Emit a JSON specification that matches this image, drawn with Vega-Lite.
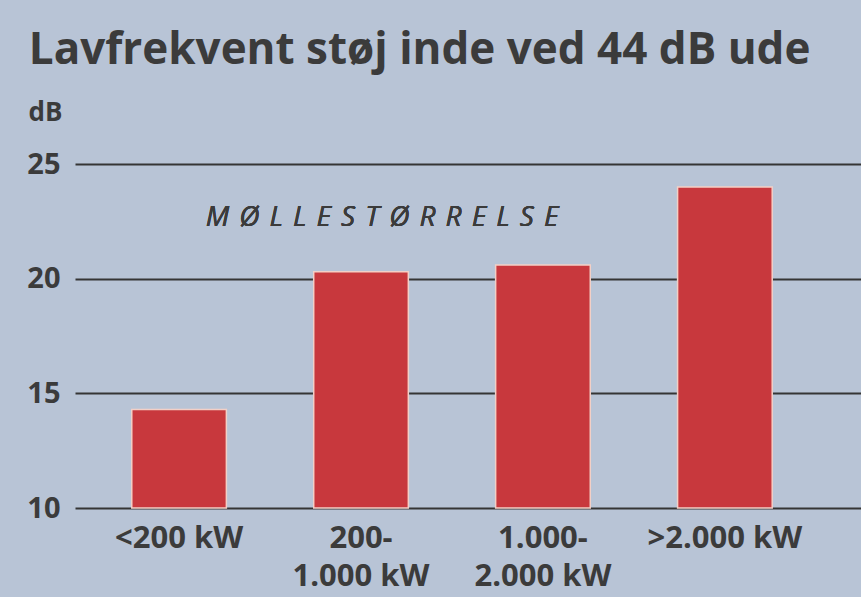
{
  "$schema": "https://vega.github.io/schema/vega-lite/v6.json",
  "autosize": {"type": "none"},
  "padding": {"left": 75, "top": 164, "right": 0, "bottom": 89},
  "width": 786,
  "height": 344,
  "background": "#b8c4d6",
  "title": {
    "text": "Lavfrekvent støj inde ved 44 dB ude",
    "anchor": "start",
    "frame": "bounds",
    "font": "Open Sans",
    "fontSize": 44,
    "fontWeight": "bold",
    "color": "#3b3b3b",
    "offset": 26,
    "dx": 2
  },
  "config": {
    "view": {"stroke": null},
    "font": "Open Sans"
  },
  "data": {
    "values": [
      {"kategori": "<200 kW", "dB": 14.3},
      {"kategori": "200-|1.000 kW", "dB": 20.3},
      {"kategori": "1.000-|2.000 kW", "dB": 20.6},
      {"kategori": ">2.000 kW", "dB": 24.0}
    ]
  },
  "layer": [
    {
      "mark": {"type": "bar", "color": "#c8383d", "stroke": "#f3cfc6", "strokeWidth": 1.5},
      "encoding": {
        "x": {
          "field": "kategori",
          "type": "nominal",
          "sort": null,
          "scale": {"paddingInner": 0.48, "paddingOuter": 0.4, "align": 0.39},
          "axis": {
            "title": null,
            "labelAngle": 0,
            "labelExpr": "split(datum.label, '|')",
            "labelFont": "Open Sans",
            "labelFontSize": 31,
            "labelFontWeight": "bold",
            "labelColor": "#3b3b3b",
            "labelPadding": 15,
            "labelLineHeight": 38,
            "domain": false,
            "ticks": false
          }
        },
        "y": {
          "field": "dB",
          "type": "quantitative",
          "scale": {"domain": [10, 25], "nice": false, "zero": false},
          "axis": {
            "values": [10, 15, 20, 25],
            "title": "dB",
            "titleAngle": 0,
            "titleAlign": "left",
            "titleBaseline": "alphabetic",
            "titleX": -47,
            "titleY": -44,
            "titleFont": "Open Sans",
            "titleFontSize": 26,
            "titleFontWeight": "bold",
            "titleColor": "#3b3b3b",
            "labelFont": "Open Sans",
            "labelFontSize": 29,
            "labelFontWeight": "bold",
            "labelColor": "#3b3b3b",
            "labelPadding": 15,
            "domain": false,
            "ticks": false,
            "grid": true,
            "gridColor": "#353535",
            "gridWidth": 2,
            "gridOpacity": 1
          }
        },
        "y2": {"datum": 10}
      }
    },
    {
      "mark": {
        "type": "text",
        "text": "M \u200aØ \u200aL \u200aL \u200aE \u200aS \u200aT \u200aØ \u200aR \u200aR \u200aE \u200aL \u200aS \u200aE",
        "font": "Open Sans",
        "fontSize": 28,
        "fontStyle": "italic",
        "color": "#3b3b3b",
        "align": "center",
        "baseline": "alphabetic",
        "dx": 21
      },
      "encoding": {
        "x": {"datum": "200-|1.000 kW", "type": "nominal"},
        "y": {"datum": 22.3, "type": "quantitative"}
      }
    }
  ]
}
